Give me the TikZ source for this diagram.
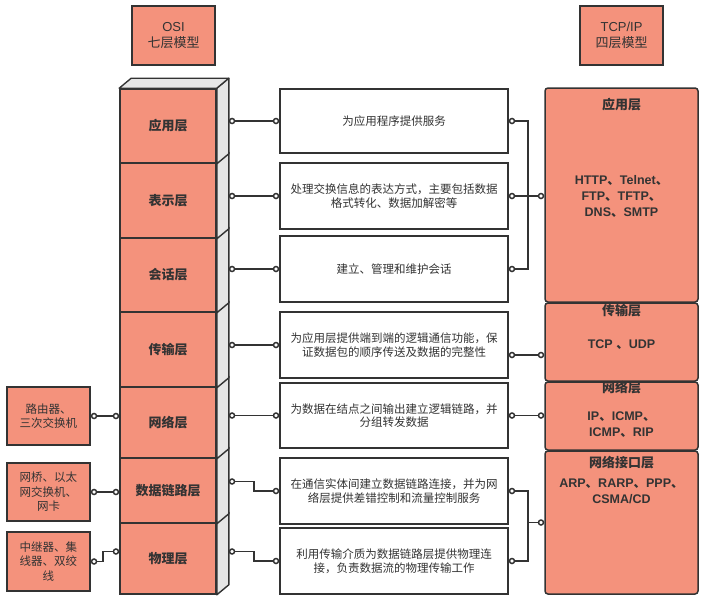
\documentclass[tikz,border=0pt]{standalone}
\usepackage{fontspec}
\setmainfont{Noto Sans CJK SC}
\newfontfamily\lat{Liberation Sans}
\usetikzlibrary{arrows.meta,positioning,calc}
\definecolor{salmon}{RGB}{244,146,124}
\definecolor{ink}{RGB}{51,51,51}
\definecolor{sidegray}{RGB}{230,230,230}

\begin{document}
\begin{tikzpicture}[
    x=1pt, y=-1pt,
    every node/.style={text=ink},
    hdr/.style={rectangle, draw=ink, fill=salmon, line width=1.6pt, minimum width=83pt, minimum height=59pt, align=center, font=\fontsize{13}{16}\selectfont},
    layer/.style={rectangle, draw=ink, fill=salmon, line width=1.6pt, minimum width=96pt, inner sep=0pt, align=center, font=\bfseries\fontsize{13}{16}\selectfont},
    desc/.style={rectangle, draw=ink, fill=white, line width=1.5pt, minimum width=228pt, inner sep=0pt, align=center, font=\fontsize{11.5}{13.5}\selectfont},
    dev/.style={rectangle, draw=ink, fill=salmon, line width=1.6pt, minimum width=83pt, inner sep=0pt, align=center, font=\fontsize{11.5}{14.5}\selectfont},
    tcpbox/.style={rectangle, draw=ink, fill=salmon, line width=1.5pt, rounded corners=3pt, minimum width=153pt},
    ttl/.style={inner sep=0pt, font=\bfseries\fontsize{13}{16}\selectfont},
    proto/.style={inner sep=0pt, align=center, font=\bfseries\fontsize{12.5}{16}\selectfont},
    face/.style={fill=sidegray, draw=ink, line width=1.4pt, line join=round},
    link/.style={draw=ink, line width=1.5pt, {Circle[open,length=6.5pt,width=6.5pt]}-{Circle[open,length=6.5pt,width=6.5pt]}},
    half/.style={draw=ink, line width=1.5pt, {Circle[open,length=6.5pt,width=6.5pt]}-},
]
\useasboundingbox (0,0) rectangle (703,600);

\node[hdr] (osi) at (173.5,35.5) {{\lat OSI}\\七层模型};
\node[hdr] (tcpip) at (621.5,35.5) {{\lat TCP/IP}\\四层模型};

% OSI stack
\node[layer, minimum height=74pt] (l1) at (168,126) {应用层};
\node[layer, minimum height=75pt] (l2) at (168,200.5) {表示层};
\node[layer, minimum height=74pt] (l3) at (168,275) {会话层};
\node[layer, minimum height=75pt] (l4) at (168,349.5) {传输层};
\node[layer, minimum height=71pt] (l5) at (168,422.5) {网络层};
\node[layer, minimum height=65pt] (l6) at (168,490.5) {数据链路层};
\node[layer, minimum height=71pt] (l7) at (168,558.5) {物理层};
\foreach \n in {7,6,...,1}
    \draw[face] (l\n.north east) -- ++(12,-10) -- ([shift={(12,-10)}]l\n.south east) -- (l\n.south east) -- cycle;
\draw[face] (l1.north west) -- ++(12,-10) -- ([shift={(12,-10)}]l1.north east) -- (l1.north east) -- cycle;

\node[desc, minimum height=64pt] (d1) at (394,121) {为应用程序提供服务};
\node[desc, minimum height=66pt] (d2) at (394,196) {处理交换信息的表达方式，主要包括数据\\格式转化、数据加解密等};
\node[desc, minimum height=66pt] (d3) at (394,269) {建立、管理和维护会话};
\node[desc, minimum height=66pt] (d4) at (394,345) {为应用层提供端到端的逻辑通信功能，保\\证数据包的顺序传送及数据的完整性};
\node[desc, minimum height=65pt] (d5) at (394,415.5) {为数据在结点之间输出建立逻辑链路，并\\分组转发数据};
\node[desc, minimum height=66pt] (d6) at (394,491) {在通信实体间建立数据链路连接，并为网\\络层提供差错控制和流量控制服务};
\node[desc, minimum height=66pt] (d7) at (394,561) {利用传输介质为数据链路层提供物理连\\接，负责数据流的物理传输工作};

\node[dev, minimum height=58pt] (dev1) at (48.5,416) {路由器、\\三次交换机};
\node[dev, minimum height=58pt] (dev2) at (48.5,492) {网桥、以太\\网交换机、\\网卡};
\node[dev, minimum height=59pt] (dev3) at (48.5,561.5) {中继器、集\\线器、双绞\\线};

% TCP/IP stack
\node[tcpbox, minimum height=214pt] (app) at (621.5,195) {};
\node[tcpbox, minimum height=78pt] (tcp) at (621.5,342) {};
\node[tcpbox, minimum height=68pt] (ip) at (621.5,416) {};
\node[tcpbox, minimum height=143pt] (nif) at (621.5,522.5) {};
\node[ttl] at ($(app.north)+(0,17)$) {应用层};
\node[ttl] at ($(tcp.north)+(0,8)$) {传输层};
\node[ttl] at ($(ip.north)+(0,6)$) {网络层};
\node[ttl] at ($(nif.north)+(0,12)$) {网络接口层};
\node[proto] at ($(app)+(0,1)$) {{\lat HTTP}、{\lat Telnet}、\\{\lat FTP}、{\lat TFTP}、\\{\lat DNS}、{\lat SMTP}};
\node[proto] at ($(tcp)+(0,3)$) {{\lat TCP }、{\lat UDP}};
\node[proto] at ($(ip)+(0,9)$) {{\lat IP}、{\lat ICMP}、\\{\lat ICMP}、{\lat RIP}};
\node[proto] at ($(nif)+(0,-31)$) {{\lat ARP}、{\lat RARP}、{\lat PPP}、\\{\lat CSMA/CD}};

% OSI -> descriptions
\foreach \n in {1,...,5}
    \draw[link] ($(l\n.east |- d\n.west)+(12,0)$) -- (d\n.west);
\draw[link] ($(l6.east)+(12,-9)$) -- ++(25,0) |- (d6.west);
\draw[link] ($(l7.east)+(12,-7)$) -- ++(25,0) |- (d7.west);

% descriptions -> TCP/IP
\coordinate (jA) at ($(d2.east)+(19,0)$);
\draw[half] (d1.east) -| (jA);
\draw[half] (d3.east) -| (jA);
\draw[link] (d2.east) -- (app.west |- d2.east);
\coordinate (t4) at ($(d4.east)+(0,10)$);
\draw[link] (t4) -- (tcp.west |- t4);
\draw[link] (d5.east) -- (ip.west |- d5.east);
\coordinate (jB) at ($(d6.east |- nif.west)+(19,0)$);
\draw[half] (d6.east) -| (jB);
\draw[half] (d7.east) -| (jB);
\draw[draw=ink, line width=1.5pt, -{Circle[open,length=6.5pt,width=6.5pt]}] (jB) -- (nif.west);

% devices -> OSI
\draw[link] (dev1.east) -- (l5.west |- dev1.east);
\draw[link] (dev2.east) -- (l6.west |- dev2.east);
\draw[link] (dev3.east) -- ++(12,0) |- ($(l7.west)+(0,-7)$);
\end{tikzpicture}
\end{document}
